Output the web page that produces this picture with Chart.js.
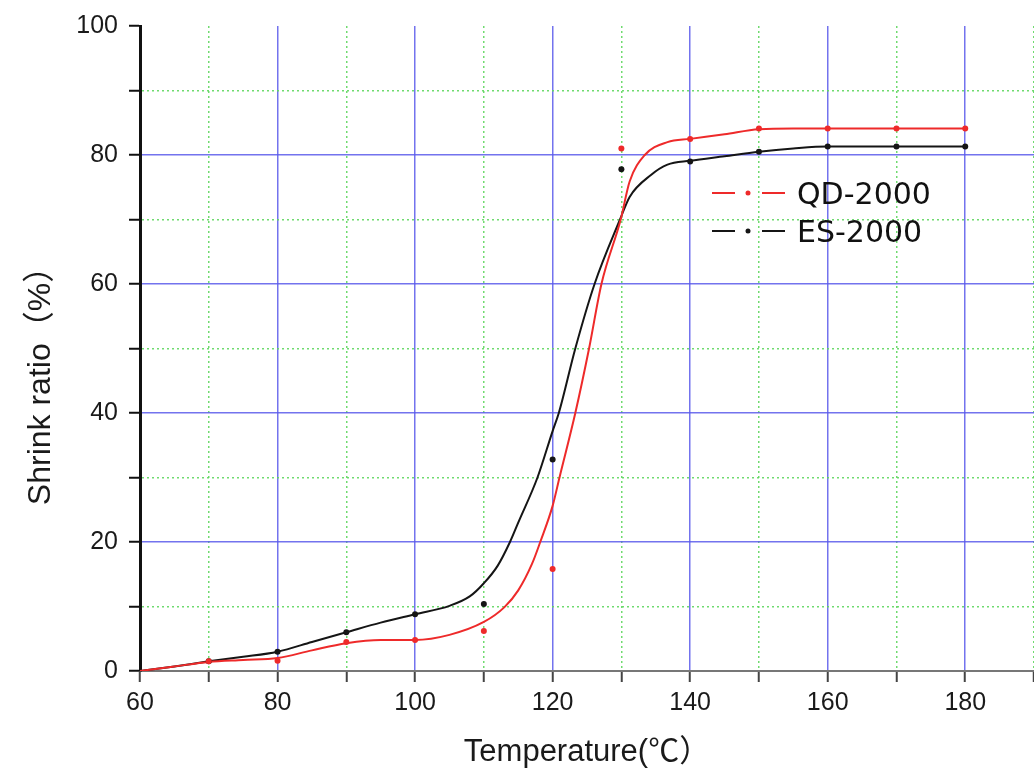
<!DOCTYPE html>
<html>
<head>
<meta charset="utf-8">
<script src="https://cdn.jsdelivr.net/npm/chart.js@4.4.1/dist/chart.umd.min.js"></script>
<style>
  html, body { margin: 0; padding: 0; background: #fff; overflow: hidden; }
  #wrap { position: relative; width: 1040px; height: 774px; }
</style>
</head>
<body>
<div id="wrap"><canvas id="chart"></canvas></div>
<script>
// measured points (temperature in C, shrink ratio in %)
const temps = [70, 80, 90, 100, 110, 120, 130, 140, 150, 160, 170, 180];
const qdPoints = [1.5, 1.6, 4.5, 4.8, 6.2, 15.8, 81.0, 82.5, 84.1, 84.1, 84.1, 84.1];
const esPoints = [1.5, 3.0, 6.0, 8.8, 10.4, 32.8, 77.8, 79.0, 80.5, 81.3, 81.3, 81.3];

// fitted curves
const qdFitT = [60, 65, 70, 75, 80, 85, 90, 95, 100, 105, 110, 113, 115, 117, 118.2, 120, 121, 123.3, 125.3, 127.1, 129.9, 131.2, 133.4, 136.7, 140, 145, 150, 155, 160, 170, 180];
const qdFitY = [0, 0.7, 1.4, 1.7, 2.0, 3.2, 4.3, 4.8, 4.8, 5.6, 7.6, 9.9, 12.5, 16.6, 20, 25.6, 30, 40, 50, 60, 70, 75.9, 80, 82, 82.5, 83.2, 84.0, 84.1, 84.1, 84.1, 84.1];
const esFitT = [60, 65, 70, 75, 80, 85, 90, 95, 100, 105, 108, 110, 112, 113.8, 115, 117.8, 120, 120.9, 123.3, 126.1, 129.8, 131.2, 134.3, 136.7, 140, 145, 150, 155, 160, 170, 180];
const esFitY = [0, 0.7, 1.5, 2.2, 3.0, 4.5, 6.0, 7.5, 8.8, 10.1, 11.6, 13.6, 16.3, 20, 23, 30, 37.2, 40, 50, 60, 70, 73.5, 76.9, 78.5, 79.1, 79.8, 80.5, 81.0, 81.3, 81.3, 81.3];

const seriesNames = ['QD-2000', 'ES-2000'];
const seriesColors = ['#ee2a2a', '#151515'];
const xTickLabels = [60, 80, 100, 120, 140, 160, 180];
const yTickLabels = [0, 20, 40, 60, 80, 100];
const xTitle = 'Temperature(℃）';
const yTitle = 'Shrink ratio（%）';

const BLUE = 'rgba(90,90,235,0.85)';
const GREEN = 'rgba(95,215,95,0.9)';
const tickFont = { family: '"Liberation Sans", Arial, sans-serif', size: 25 };

function toXY(xs, ys) {
  return xs.map((x, i) => ({ x: x, y: ys[i] }));
}

// legend drawn inside the plot like the original
const inlineLegend = {
  id: 'inlineLegend',
  afterDraw(chart) {
    const c = chart.ctx;
    c.save();
    seriesNames.forEach((name, i) => {
      const y = 193 + i * 38;
      c.strokeStyle = seriesColors[i];
      c.lineWidth = 2;
      c.beginPath();
      c.moveTo(712, y); c.lineTo(735, y);
      c.moveTo(762, y); c.lineTo(785, y);
      c.stroke();
      c.fillStyle = seriesColors[i];
      c.beginPath();
      c.arc(748, y, 2.5, 0, Math.PI * 2);
      c.fill();
      c.fillStyle = '#111';
      c.font = '30px "DejaVu Sans", sans-serif';
      c.textBaseline = 'alphabetic';
      c.textAlign = 'left';
      c.fillText(name, 797, y + 11);
    });
    c.restore();
  }
};

// y title sits a bit lower than the chart area centre in the original
const yTitlePlugin = {
  id: 'yTitle',
  afterDraw(chart) {
    const c = chart.ctx;
    c.save();
    c.translate(50, 378);
    c.rotate(-Math.PI / 2);
    c.font = '32px "Liberation Sans", "Noto Sans CJK SC", sans-serif';
    c.fillStyle = '#1a1a1a';
    c.textAlign = 'center';
    c.textBaseline = 'alphabetic';
    c.fillText(yTitle, 0, 0);
    c.restore();
  }
};

const ctx = document.getElementById('chart').getContext('2d');
new Chart(ctx, {
  type: 'scatter',
  data: {
    datasets: [
      { label: seriesNames[0], data: toXY(temps, qdPoints), backgroundColor: seriesColors[0], borderWidth: 0, pointRadius: 3, showLine: false },
      { label: seriesNames[1], data: toXY(temps, esPoints), backgroundColor: seriesColors[1], borderWidth: 0, pointRadius: 3, showLine: false },
      { label: seriesNames[0] + ' fit', data: toXY(qdFitT, qdFitY), showLine: true, borderColor: seriesColors[0], borderWidth: 2, pointRadius: 0, cubicInterpolationMode: 'monotone' },
      { label: seriesNames[1] + ' fit', data: toXY(esFitT, esFitY), showLine: true, borderColor: seriesColors[1], borderWidth: 2, pointRadius: 0, cubicInterpolationMode: 'monotone' }
    ]
  },
  options: {
    animation: false,
    responsive: true,
    maintainAspectRatio: false,
    layout: { padding: { top: 23, right: 5, left: 0, bottom: 0 } },
    plugins: { legend: { display: false }, tooltip: { enabled: false } },
    scales: {
      x: {
        type: 'linear', min: 60, max: 190,
        afterFit: s => { s.height = 103; },
        ticks: {
          stepSize: 10, autoSkip: false, maxRotation: 0, padding: 6,
          font: tickFont, color: '#1a1a1a',
          callback: v => xTickLabels.includes(v) ? String(v) : ''
        },
        grid: {
          color: c => (c.tick && c.tick.value % 20 === 0) ? BLUE : GREEN,
          lineWidth: 1.5, tickLength: 11, tickColor: '#444', tickWidth: 2
        },
        border: {
          color: '#777', width: 2,
          dash: c => (c.tick && c.tick.value % 20 !== 0) ? [2, 3] : []
        },
        title: {
          display: true, text: xTitle, color: '#1a1a1a',
          font: { family: '"Liberation Sans", "Noto Sans CJK SC", sans-serif', size: 31 },
          padding: { top: 0, bottom: 3 }
        }
      },
      y: {
        min: 0, max: 100,
        afterFit: s => { s.width = 140; },
        ticks: {
          stepSize: 10, autoSkip: false, padding: 11,
          font: tickFont, color: '#1a1a1a',
          callback: v => yTickLabels.includes(v) ? String(v) : ''
        },
        grid: {
          color: c => {
            if (!c.tick || c.tick.value === 100) return 'rgba(0,0,0,0)';
            return c.tick.value % 20 === 0 ? BLUE : GREEN;
          },
          lineWidth: 1.5, tickLength: 11, tickColor: '#111', tickWidth: 2
        },
        border: {
          color: '#111', width: 3,
          dash: c => (c.tick && c.tick.value % 20 !== 0) ? [2, 3] : []
        }
      }
    }
  },
  plugins: [inlineLegend, yTitlePlugin]
});
</script>
</body>
</html>
